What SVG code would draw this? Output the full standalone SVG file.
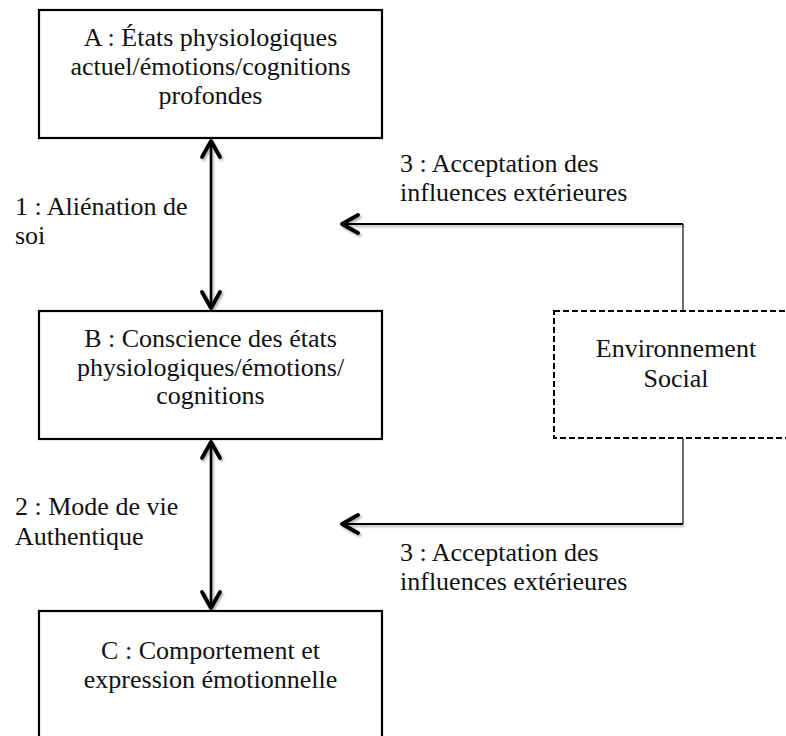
<svg xmlns="http://www.w3.org/2000/svg" width="786" height="736" viewBox="0 0 786 736">
<style>
  text { font-family: "Liberation Serif", "Times New Roman", serif; font-size: 26px; fill: #111; }
  .c { text-anchor: middle; }
  .box { fill: #fff; stroke: #000; stroke-width: 2.2; }
  .dbox { fill: #fff; stroke: #000; stroke-width: 2; stroke-dasharray: 6 3; }
  .bi { fill: none; stroke: #000; stroke-width: 2.6; }
  .h { fill: none; stroke: #000; stroke-width: 2; }
  .thin { fill: none; stroke: #222; stroke-width: 1.3; }
</style>
<defs>
  <filter id="sh" filterUnits="userSpaceOnUse" x="0" y="0" width="786" height="736">
    <feDropShadow dx="1.5" dy="2" stdDeviation="1.2" flood-color="#000" flood-opacity="0.3"/>
  </filter>
  <marker id="chev" markerUnits="userSpaceOnUse" viewBox="-20 -12 24 24" refX="0" refY="0" markerWidth="24" markerHeight="24" orient="auto-start-reverse">
    <path d="M -16 -9 L 0 0 L -16 9" fill="none" stroke="#000" stroke-width="3.8" stroke-linecap="round" stroke-linejoin="round"/>
  </marker>
</defs>
<rect width="786" height="736" fill="#fff"/>

<g id="connectors">
  <line class="bi" x1="211" y1="141" x2="211" y2="308" marker-start="url(#chev)" marker-end="url(#chev)" filter="url(#sh)"/>
  <line class="bi" x1="211" y1="442" x2="211" y2="608" marker-start="url(#chev)" marker-end="url(#chev)" filter="url(#sh)"/>
  <polyline class="thin" points="683,311 683,224"/>
  <line class="h" x1="683" y1="224" x2="342" y2="224" marker-end="url(#chev)" filter="url(#sh)"/>
  <polyline class="thin" points="683,438 683,524"/>
  <line class="h" x1="683" y1="524" x2="342" y2="524" marker-end="url(#chev)" filter="url(#sh)"/>
  <text x="15" y="215">1 : Aliénation de</text>
  <text x="15" y="244">soi</text>
  <text x="15" y="515">2 : Mode de vie</text>
  <text x="15" y="545">Authentique</text>
  <text x="400" y="172">3 : Acceptation des</text>
  <text x="400" y="201">influences extérieures</text>
  <text x="400" y="561">3 : Acceptation des</text>
  <text x="400" y="590">influences extérieures</text>
</g>

<g id="nodeA">
  <rect class="box" x="39" y="10" width="343" height="128"/>
  <text class="c" x="210.5" y="46">A : États physiologiques</text>
  <text class="c" x="210.5" y="75">actuel/émotions/cognitions</text>
  <text class="c" x="210.5" y="104">profondes</text>
</g>

<g id="nodeB">
  <rect class="box" x="39" y="311" width="343" height="128"/>
  <text class="c" x="210.5" y="347">B : Conscience des états</text>
  <text class="c" x="210.5" y="376">physiologiques/émotions/</text>
  <text class="c" x="210.5" y="404">cognitions</text>
</g>

<g id="nodeC">
  <rect class="box" x="39" y="611" width="343" height="160"/>
  <text class="c" x="210.5" y="659">C : Comportement et</text>
  <text class="c" x="210.5" y="688">expression émotionnelle</text>
</g>

<g id="nodeEnv">
  <rect class="dbox" x="554" y="311" width="244" height="127"/>
  <text class="c" x="676" y="357">Environnement</text>
  <text class="c" x="676" y="387">Social</text>
</g>
</svg>
